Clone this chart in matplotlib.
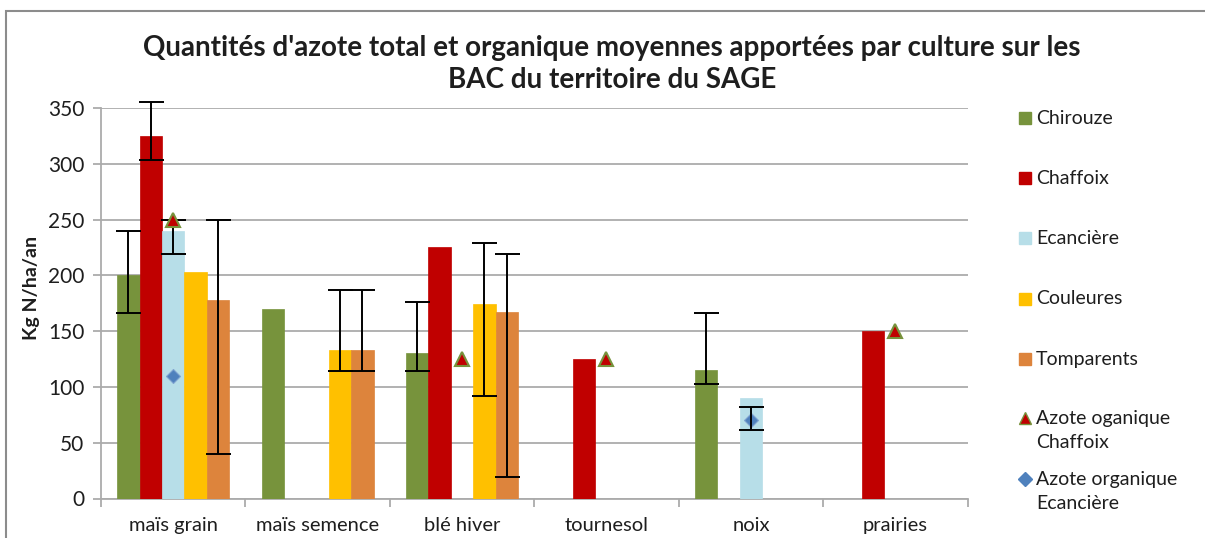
import numpy as np
import matplotlib
matplotlib.use('Agg')
import matplotlib.pyplot as plt
from matplotlib.lines import Line2D
from matplotlib.patches import Rectangle

plt.rcParams['font.family'] = ['Lato', 'DejaVu Sans']

nan = np.nan

# Crops and mean total nitrogen per BAC (kg N/ha/an)
categories = ['maïs grain', 'maïs semence', 'blé hiver', 'tournesol', 'noix', 'prairies']
chirouze = [200, 170, 130, nan, 115, nan]
chaffoix = [325, nan, 225, 125, nan, 150]
ecanciere = [240, nan, nan, nan, 90, nan]
couleures = [203, 133, 174, nan, nan, nan]
tomparents = [178, 133, 167, nan, nan, nan]

# Organic nitrogen
azote_org_chaffoix = [250, nan, 125, 125, nan, 150]
azote_org_ecanciere = [110, nan, nan, nan, 70, nan]

# Min / max ranges shown as error bars
chirouze_min = [166, nan, 114, nan, 103, nan]
chirouze_max = [240, nan, 176, nan, 166, nan]
chaffoix_min = [303, nan, nan, nan, nan, nan]
chaffoix_max = [355, nan, nan, nan, nan, nan]
ecanciere_min = [219, nan, nan, nan, nan, nan]
ecanciere_max = [250, nan, nan, nan, nan, nan]
couleures_min = [nan, 114, 92, nan, nan, nan]
couleures_max = [nan, 187, 229, nan, nan, nan]
tomparents_min = [40, 114, 19, nan, nan, nan]
tomparents_max = [250, 187, 219, nan, nan, nan]
org_ecanciere_min = [nan, nan, nan, nan, 61, nan]
org_ecanciere_max = [nan, nan, nan, nan, 82, nan]

series = [
    ('Chirouze', chirouze, chirouze_min, chirouze_max, '#77933C'),
    ('Chaffoix', chaffoix, chaffoix_min, chaffoix_max, '#C00000'),
    ('Ecancière', ecanciere, ecanciere_min, ecanciere_max, '#B7DEE8'),
    ('Couleures', couleures, couleures_min, couleures_max, '#FFC000'),
    ('Tomparents', tomparents, tomparents_min, tomparents_max, '#DD843C'),
]


def range_bars(ax, pos, lo, hi, z):
    # draw a min/max whisker centred between the two bounds
    lo = np.array(lo, dtype=float)
    hi = np.array(hi, dtype=float)
    mid = (lo + hi) / 2
    eb = ax.errorbar(pos, mid, yerr=[mid - lo, hi - mid], fmt='none', ecolor='black',
                     elinewidth=1.4, capsize=9, capthick=1.4, zorder=z)
    for art in eb.lines[1] + eb.lines[2]:
        art.set_clip_on(False)


fig = plt.figure(figsize=(12.05, 5.38), dpi=100)
ax = fig.add_axes([101 / 1205, 1 - 498.5 / 538, 866.5 / 1205, 390.5 / 538])

x = np.arange(len(categories)) + 0.5
width = 0.155
grid_col = '#ABABAB'
text_col = '#1E1E1E'

for i, (name, vals, lo, hi, col) in enumerate(series):
    pos = x + (i - 2) * width
    ax.bar(pos, np.array(vals, dtype=float), width, color=col, edgecolor=col,
           linewidth=0.5, zorder=3)
    range_bars(ax, pos, lo, hi, 5)

ax.plot(x, azote_org_chaffoix, linestyle='none', marker='^', markersize=10,
        markerfacecolor='#C00000', markeredgecolor='#77933C', markeredgewidth=1.5, zorder=6)
ax.plot(x, azote_org_ecanciere, linestyle='none', marker='D', markersize=7.5,
        markerfacecolor='#4F81BD', markeredgecolor='#7FA3D0', markeredgewidth=0.8, zorder=6)
range_bars(ax, x, org_ecanciere_min, org_ecanciere_max, 7)

ax.set_xlim(0, len(categories))
ax.set_ylim(0, 350)
ax.set_yticks(range(0, 351, 50))
ax.yaxis.grid(True, color=grid_col, linewidth=1.3, zorder=0)
ax.set_axisbelow(True)
ax.set_xticks(np.arange(len(categories) + 1))
ax.set_xticklabels([])
ax.set_xticks(x, minor=True)
ax.set_xticklabels(categories, minor=True, fontsize=14.5, color=text_col)
ax.tick_params(axis='x', which='minor', length=0, pad=13)
ax.tick_params(axis='x', which='major', length=6, color=grid_col, width=1.3)
ax.tick_params(axis='y', length=6, color=grid_col, width=1.3, labelsize=15,
               labelcolor=text_col, pad=6)
for side in ['top', 'right']:
    ax.spines[side].set_visible(False)
for side in ['left', 'bottom']:
    ax.spines[side].set_color(grid_col)
    ax.spines[side].set_linewidth(1.3)

ax.set_ylabel('Kg N/ha/an', fontsize=14, fontweight='bold', color=text_col)
ax.yaxis.set_label_coords(-0.07, 0.54)

fig.text(0.508, 1 - 64 / 538,
         "Quantités d'azote total et organique moyennes apportées par culture sur les\nBAC du territoire du SAGE",
         ha='center', va='center', fontsize=20, fontweight='bold', linespacing=1.33,
         color=text_col)

# Legend drawn entry by entry on the right
legend_items = [
    ('Chirouze', 's', '#77933C', '#77933C', 118, 9),
    ('Chaffoix', 's', '#C00000', '#C00000', 178, 9),
    ('Ecancière', 's', '#B7DEE8', '#B7DEE8', 238, 9),
    ('Couleures', 's', '#FFC000', '#FFC000', 299, 9),
    ('Tomparents', 's', '#DD843C', '#DD843C', 359, 9),
    ('Azote oganique\nChaffoix', '^', '#C00000', '#77933C', 418, 9),
    ('Azote organique\nEcancière', 'D', '#4F81BD', '#4F81BD', 479, 7),
]
for label, mk, fc, ec, ypix, ms in legend_items:
    yf = 1 - ypix / 538
    fig.add_artist(Line2D([1025 / 1205], [yf], marker=mk, markersize=ms, linestyle='none',
                          markerfacecolor=fc, markeredgecolor=ec, markeredgewidth=1,
                          transform=fig.transFigure))
    if '\n' in label:
        fig.text(1036 / 1205, yf - 12.5 / 538, label, ha='left', va='center',
                 fontsize=14, color=text_col, linespacing=1.5)
    else:
        fig.text(1036 / 1205, yf, label, ha='left', va='center',
                 fontsize=14, color=text_col)

fig.add_artist(Rectangle((6 / 1205, -0.1), 1.2, 1 - 11 / 538 + 0.1, transform=fig.transFigure,
                         fill=False, edgecolor='#8C8C8C', linewidth=1.5))

fig.savefig('out.png', dpi=100)
